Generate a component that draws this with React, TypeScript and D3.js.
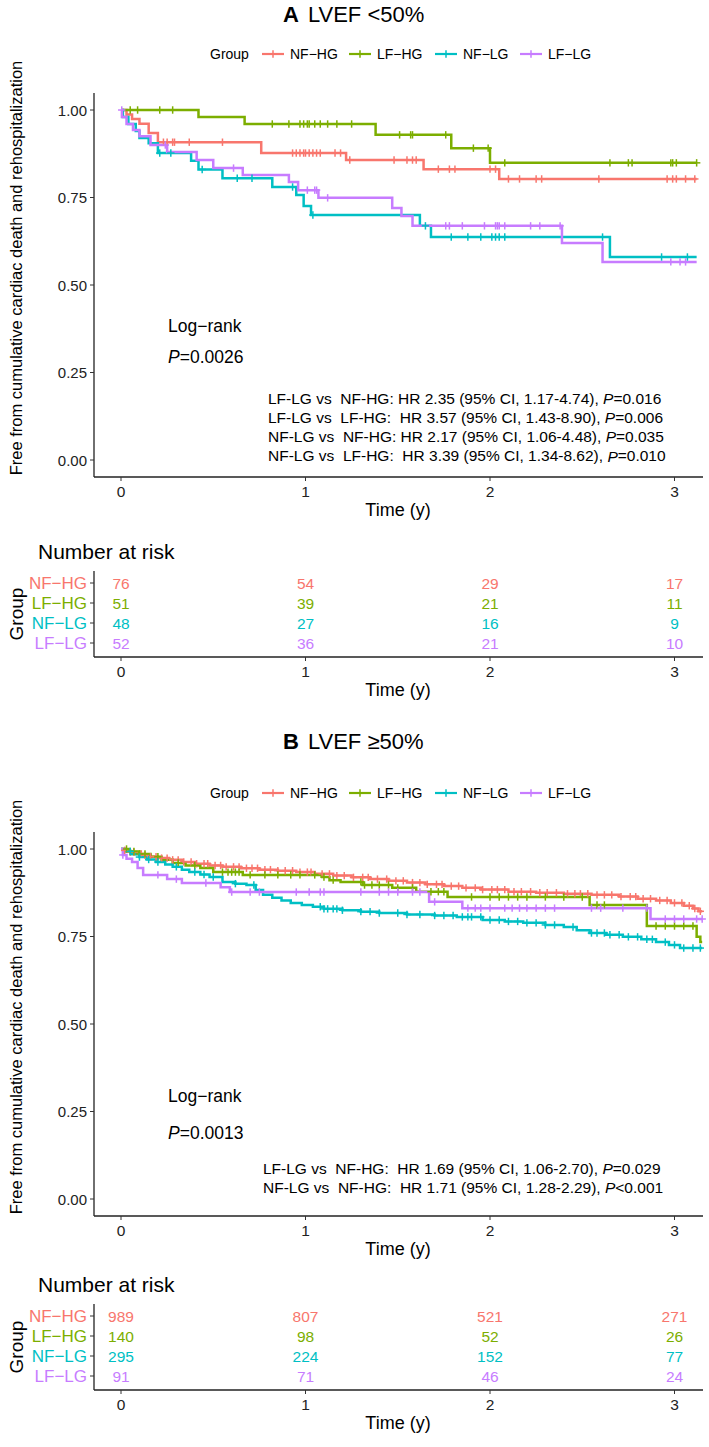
import React from 'react';
import * as d3 from 'd3';

const FONT = "'Liberation Sans', Arial, Helvetica, sans-serif";
const groups = ['NF-HG', 'LF-HG', 'NF-LG', 'LF-LG'];
const groupLabels = ['NF\u2212HG', 'LF\u2212HG', 'NF\u2212LG', 'LF\u2212LG'];
const colors = ['#F8766D', '#7CAE00', '#00BFC4', '#C77CFF'];
const xTicks = [0, 1, 2, 3];
const yTicks = [0, 0.25, 0.5, 0.75, 1];
const yTickLabels = ['0.00', '0.25', '0.50', '0.75', '1.00'];

// ---------- Panel A: LVEF <50% ----------
const aNFHG_t = [0.03, 0.06, 0.10, 0.15, 0.20, 0.76, 1.22, 1.64, 2.05];
const aNFHG_s = [0.987, 0.974, 0.961, 0.934, 0.908, 0.877, 0.857, 0.831, 0.803];
const aNFHG_c = [0.23, 0.25, 0.28, 0.29, 0.37, 0.55, 0.93, 0.95, 0.97, 0.99, 1.0, 1.02, 1.04, 1.06, 1.08, 1.16, 1.19, 1.24, 1.48, 1.55, 1.58, 1.60, 1.72, 1.78, 1.81, 2.0, 2.03, 2.10, 2.16, 2.25, 2.28, 2.59, 2.96, 2.99, 3.01, 3.06, 3.11];

const aLFHG_t = [0.42, 0.67, 1.38, 1.79, 2.0];
const aLFHG_s = [0.98, 0.96, 0.929, 0.891, 0.849];
const aLFHG_c = [0.05, 0.09, 0.21, 0.28, 0.82, 0.91, 0.97, 0.99, 1.01, 1.02, 1.05, 1.08, 1.12, 1.17, 1.25, 1.51, 1.57, 1.58, 1.76, 1.91, 1.99, 2.08, 2.65, 2.75, 2.77, 2.98, 2.99, 3.01, 3.12];

const aNFLG_t = [0.01, 0.04, 0.08, 0.10, 0.15, 0.20, 0.38, 0.42, 0.55, 0.82, 0.95, 0.99, 1.03, 1.62, 1.68, 2.65];
const aNFLG_s = [0.98, 0.96, 0.94, 0.92, 0.905, 0.877, 0.855, 0.83, 0.805, 0.78, 0.757, 0.726, 0.70, 0.669, 0.637, 0.58];
const aNFLG_c = [0.21, 0.27, 0.44, 0.63, 0.71, 0.93, 1.04, 1.65, 1.79, 1.88, 1.95, 2.01, 2.03, 2.05, 2.08, 2.61, 2.93, 3.07];

const aLFLG_t = [0.005, 0.03, 0.065, 0.10, 0.16, 0.25, 0.41, 0.50, 0.66, 0.91, 0.96, 1.07, 1.47, 1.52, 1.58, 2.39, 2.61];
const aLFLG_s = [0.98, 0.96, 0.943, 0.925, 0.90, 0.88, 0.857, 0.834, 0.814, 0.794, 0.771, 0.749, 0.72, 0.697, 0.669, 0.62, 0.566];
const aLFLG_c = [0.004, 0.24, 0.61, 1.01, 1.05, 1.06, 1.12, 1.76, 1.78, 1.85, 1.97, 2.03, 2.04, 2.05, 2.08, 2.22, 2.27, 2.38, 2.98, 3.03, 3.06];

const aRisk = [[76, 54, 29, 17], [51, 39, 21, 11], [48, 27, 16, 9], [52, 36, 21, 10]];

// ---------- Panel B: LVEF >=50% ----------
const bNFHG_t = [0.02, 0.05, 0.08, 0.12, 0.16, 0.2, 0.26, 0.33, 0.4, 0.48, 0.55, 0.65, 0.75, 0.85, 0.95, 1.05, 1.15, 1.25, 1.35, 1.45, 1.55, 1.65, 1.75, 1.85, 1.95, 2.1, 2.25, 2.4, 2.55, 2.7, 2.8, 2.9, 2.98, 3.05, 3.1, 3.13];
const bNFHG_s = [0.996, 0.991, 0.986, 0.982, 0.978, 0.974, 0.969, 0.963, 0.958, 0.953, 0.949, 0.945, 0.941, 0.938, 0.934, 0.929, 0.924, 0.919, 0.914, 0.909, 0.904, 0.899, 0.894, 0.889, 0.884, 0.878, 0.875, 0.872, 0.869, 0.864, 0.858, 0.853, 0.846, 0.838, 0.830, 0.822];
const bNFHG_c = [0.02, 0.05, 0.07, 0.11, 0.13, 0.16, 0.19, 0.22, 0.25, 0.28, 0.31, 0.34, 0.38, 0.41, 0.45, 0.47, 0.51, 0.54, 0.57, 0.61, 0.64, 0.68, 0.71, 0.74, 0.78, 0.81, 0.85, 0.89, 0.93, 0.97, 1.01, 1.03, 1.09, 1.13, 1.17, 1.21, 1.26, 1.31, 1.34, 1.39, 1.44, 1.49, 1.53, 1.58, 1.62, 1.66, 1.71, 1.74, 1.79, 1.83, 1.87, 1.92, 1.96, 2.01, 2.04, 2.08, 2.13, 2.17, 2.22, 2.27, 2.31, 2.36, 2.42, 2.46, 2.49, 2.53, 2.58, 2.62, 2.66, 2.71, 2.76, 2.79, 2.83, 2.87, 2.92, 2.96, 3.0, 3.04, 3.08, 3.11, 3.14];

const bLFHG_t = [0.04, 0.1, 0.16, 0.22, 0.28, 0.35, 0.43, 0.5, 0.66, 1.09, 1.13, 1.19, 1.31, 1.47, 1.6, 1.77, 2.54, 2.85, 3.12, 3.14];
const bLFHG_s = [0.993, 0.986, 0.978, 0.969, 0.96, 0.953, 0.946, 0.934, 0.926, 0.92, 0.911, 0.906, 0.897, 0.889, 0.878, 0.863, 0.84, 0.78, 0.749, 0.734];
const bLFHG_c = [0.03, 0.05, 0.07, 0.1, 0.13, 0.2, 0.31, 0.4, 0.55, 0.58, 0.6, 0.62, 0.64, 0.7, 0.78, 0.85, 0.92, 0.97, 1.05, 1.1, 1.15, 1.3, 1.32, 1.36, 1.4, 1.45, 1.5, 1.58, 1.68, 1.72, 1.75, 1.9, 2.0, 2.05, 2.1, 2.15, 2.2, 2.3, 2.4, 2.5, 2.58, 2.62, 2.9, 2.95, 3.0, 3.05, 3.1];

const bNFLG_t = [0.02, 0.06, 0.1, 0.14, 0.19, 0.24, 0.28, 0.33, 0.37, 0.43, 0.48, 0.55, 0.62, 0.68, 0.73, 0.77, 0.82, 0.87, 0.92, 0.98, 1.04, 1.1, 1.2, 1.3, 1.4, 1.55, 1.7, 1.82, 1.96, 2.08, 2.18, 2.3, 2.4, 2.47, 2.54, 2.63, 2.72, 2.82, 2.9, 2.97, 3.03];
const bNFLG_s = [0.993, 0.985, 0.977, 0.97, 0.963, 0.956, 0.949, 0.941, 0.934, 0.927, 0.92, 0.906, 0.901, 0.897, 0.883, 0.869, 0.861, 0.853, 0.846, 0.84, 0.835, 0.829, 0.825, 0.821, 0.817, 0.813, 0.81, 0.806, 0.797, 0.793, 0.789, 0.783, 0.777, 0.768, 0.76, 0.755, 0.749, 0.742, 0.734, 0.726, 0.717];
const bNFLG_c = [0.05, 0.1, 0.15, 0.2, 0.3, 0.4, 0.45, 0.5, 0.62, 0.72, 1.08, 1.1, 1.12, 1.15, 1.17, 1.2, 1.3, 1.35, 1.4, 1.5, 1.55, 1.62, 1.7, 1.75, 1.8, 1.85, 1.88, 1.9, 1.95, 2.0, 2.05, 2.1, 2.15, 2.2, 2.25, 2.3, 2.35, 2.45, 2.55, 2.58, 2.62, 2.65, 2.7, 2.75, 2.8, 2.85, 2.88, 2.95, 3.0, 3.05, 3.1, 3.14];

const bLFLG_t = [0.01, 0.03, 0.06, 0.09, 0.12, 0.25, 0.33, 0.54, 0.59, 1.67, 1.85, 2.87];
const bLFLG_s = [0.983, 0.972, 0.963, 0.946, 0.926, 0.914, 0.903, 0.891, 0.877, 0.849, 0.831, 0.8];
const bLFLG_c = [0.01, 0.2, 0.3, 0.46, 0.6, 0.7, 0.75, 0.95, 1.02, 1.08, 1.1, 1.3, 1.4, 1.45, 1.5, 1.58, 1.62, 1.7, 1.88, 1.92, 1.95, 2.0, 2.08, 2.12, 2.16, 2.2, 2.25, 2.3, 2.35, 2.55, 2.6, 2.72, 2.85, 2.95, 3.0, 3.05, 3.12, 3.15];

const bRisk = [[989, 807, 521, 271], [140, 98, 52, 26], [295, 224, 152, 77], [91, 71, 46, 24]];

const aHR = [
  ['LF-LG vs  NF-HG: HR 2.35 (95% CI, 1.17-4.74), ', '=0.016'],
  ['LF-LG vs  LF-HG:  HR 3.57 (95% CI, 1.43-8.90), ', '=0.006'],
  ['NF-LG vs  NF-HG: HR 2.17 (95% CI, 1.06-4.48), ', '=0.035'],
  ['NF-LG vs  LF-HG:  HR 3.39 (95% CI, 1.34-8.62), ', '=0.010'],
];
const bHR = [
  ['LF-LG vs  NF-HG:  HR 1.69 (95% CI, 1.06-2.70), ', '=0.029'],
  ['NF-LG vs  NF-HG:  HR 1.71 (95% CI, 1.28-2.29), ', '<0.001'],
];

type Series = { t: number[]; s: number[]; c: number[]; end: number };

const panelA = {
  letter: 'A', title: 'LVEF <50%', titleY: 22, legendY: 54,
  y1: 110, y0: 460, top: 93, axisY: 477, logRankY: 326, pY: 357, hrY: 398, hrX: 268, yTitleY: 268,
  series: [
    { t: aNFHG_t, s: aNFHG_s, c: aNFHG_c, end: 3.12 },
    { t: aLFHG_t, s: aLFHG_s, c: aLFHG_c, end: 3.12 },
    { t: aNFLG_t, s: aNFLG_s, c: aNFLG_c, end: 3.12 },
    { t: aLFLG_t, s: aLFLG_s, c: aLFLG_c, end: 3.12 },
  ] as Series[],
  hr: aHR, pval: '0.0026',
  riskTitleY: 551, riskRow0: 583, riskAxis: 657, risk: aRisk,
};
const panelB = {
  letter: 'B', title: 'LVEF \u226550%', titleY: 749, legendY: 793,
  y1: 849, y0: 1199, top: 832, axisY: 1216, logRankY: 1096, pY: 1133, hrY: 1168, hrX: 263, yTitleY: 1007,
  series: [
    { t: bNFHG_t, s: bNFHG_s, c: bNFHG_c, end: 3.15 },
    { t: bLFHG_t, s: bLFHG_s, c: bLFHG_c, end: 3.15 },
    { t: bNFLG_t, s: bNFLG_s, c: bNFLG_c, end: 3.15 },
    { t: bLFLG_t, s: bLFLG_s, c: bLFLG_c, end: 3.15 },
  ] as Series[],
  hr: bHR, pval: '0.0013',
  riskTitleY: 1284, riskRow0: 1316, riskAxis: 1390, risk: bRisk,
};

const X_LEFT = 94;
const X_RIGHT = 703;
const x = d3.scaleLinear().domain([0, 3]).range([121, 674.5]);

function survAt(se: Series, t: number) {
  let s = 1;
  for (let i = 0; i < se.t.length; i++) if (se.t[i] <= t) s = se.s[i];
  return s;
}

function Plus({ cx, cy, color }: { cx: number; cy: number; color: string }) {
  const h = 3.7;
  return (
    <g stroke={color} strokeWidth={1.5}>
      <line x1={cx} x2={cx} y1={cy - h} y2={cy + h} />
      <line x1={cx - h} x2={cx + h} y1={cy} y2={cy} />
    </g>
  );
}

function Panel({ p }: { p: typeof panelA }) {
  const y = d3.scaleLinear().domain([0, 1]).range([p.y0, p.y1]);
  const line = d3.line<[number, number]>().x(d => x(d[0])).y(d => y(d[1])).curve(d3.curveStepAfter);
  const legendItems = [
    { key: 262, text: 290 },
    { key: 349, text: 377 },
    { key: 435, text: 463 },
    { key: 520, text: 548 },
  ];
  const rowY = (i: number) => p.riskRow0 + i * 20;
  const riskTop = p.riskRow0 - 12;
  return (
    <g fontFamily={FONT}>
      {/* title */}
      <text x={283} y={p.titleY} fontSize={22} textAnchor="start">
        <tspan fontWeight="bold">{p.letter}</tspan>
        <tspan dx={9}>{p.title}</tspan>
      </text>
      {/* legend */}
      <text x={210} y={p.legendY} fontSize={14} dominantBaseline="central">Group</text>
      {groups.map((g, i) => (
        <g key={g}>
          <line x1={legendItems[i].key} x2={legendItems[i].key + 22} y1={p.legendY} y2={p.legendY} stroke={colors[i]} strokeWidth={2.2} />
          <Plus cx={legendItems[i].key + 11} cy={p.legendY} color={colors[i]} />
          <text x={legendItems[i].text} y={p.legendY} fontSize={14} dominantBaseline="central">{groupLabels[i]}</text>
        </g>
      ))}
      {/* axes */}
      <line x1={X_LEFT} x2={X_LEFT} y1={p.top} y2={p.axisY} stroke="#222" strokeWidth={1.3} />
      <line x1={X_LEFT} x2={X_RIGHT} y1={p.axisY} y2={p.axisY} stroke="#222" strokeWidth={1.3} />
      {yTicks.map((v, i) => (
        <g key={v}>
          <line x1={X_LEFT - 4} x2={X_LEFT} y1={y(v)} y2={y(v)} stroke="#333" />
          <text x={X_LEFT - 7} y={y(v)} fontSize={15} textAnchor="end" dominantBaseline="central" fill="#222">{yTickLabels[i]}</text>
        </g>
      ))}
      {xTicks.map(v => (
        <g key={v}>
          <line x1={x(v)} x2={x(v)} y1={p.axisY} y2={p.axisY + 4} stroke="#333" />
          <text x={x(v)} y={p.axisY + 14} fontSize={15.5} textAnchor="middle" dominantBaseline="central" fill="#222">{v}</text>
        </g>
      ))}
      <text x={398} y={p.axisY + 33} fontSize={18} textAnchor="middle" dominantBaseline="central">Time (y)</text>
      <text transform={`translate(16,${p.yTitleY}) rotate(-90)`} fontSize={16.5} textAnchor="middle" dominantBaseline="central">
        Free from cumulative cardiac death and rehospitalization
      </text>
      {/* curves */}
      {p.series.map((se, i) => {
        const pts: [number, number][] = [[0, 1], ...se.t.map((t, k) => [t, se.s[k]] as [number, number]), [se.end, se.s[se.s.length - 1]]];
        return <path key={i} d={line(pts) || ''} fill="none" stroke={colors[i]} strokeWidth={2.5} />;
      })}
      {p.series.map((se, i) => (
        <g key={'c' + i}>
          {se.c.map((t, k) => <Plus key={k} cx={x(t)} cy={y(survAt(se, t))} color={colors[i]} />)}
        </g>
      ))}
      {/* annotations */}
      <text x={168} y={p.logRankY} fontSize={17.5} dominantBaseline="central">Log{'\u2212'}rank</text>
      <text x={168} y={p.pY} fontSize={17.5} dominantBaseline="central">
        <tspan fontStyle="italic">P</tspan>={p.pval}
      </text>
      {p.hr.map((h, i) => (
        <text key={i} x={p.hrX} y={p.hrY + i * 19.2} fontSize={15.5} dominantBaseline="central" style={{ whiteSpace: 'pre' }}>
          {h[0]}<tspan fontStyle="italic">P</tspan>{h[1]}
        </text>
      ))}
      {/* risk table */}
      <text x={38} y={p.riskTitleY} fontSize={21} dominantBaseline="central">Number at risk</text>
      <line x1={X_LEFT} x2={X_LEFT} y1={riskTop} y2={p.riskAxis} stroke="#222" strokeWidth={1.3} />
      <line x1={X_LEFT} x2={X_RIGHT} y1={p.riskAxis} y2={p.riskAxis} stroke="#222" strokeWidth={1.3} />
      {groups.map((g, i) => (
        <g key={g}>
          <line x1={X_LEFT - 4} x2={X_LEFT} y1={rowY(i)} y2={rowY(i)} stroke="#333" />
          <text x={X_LEFT - 7} y={rowY(i)} fontSize={17} textAnchor="end" dominantBaseline="central" fill={colors[i]}>{groupLabels[i]}</text>
          {p.risk[i].map((n, k) => (
            <text key={k} x={x(xTicks[k])} y={rowY(i)} fontSize={15.5} textAnchor="middle" dominantBaseline="central" fill={colors[i]}>{n}</text>
          ))}
        </g>
      ))}
      <text transform={`translate(16,${(riskTop + p.riskAxis) / 2}) rotate(-90)`} fontSize={19} textAnchor="middle" dominantBaseline="central">Group</text>
      {xTicks.map(v => (
        <g key={'r' + v}>
          <line x1={x(v)} x2={x(v)} y1={p.riskAxis} y2={p.riskAxis + 4} stroke="#333" />
          <text x={x(v)} y={p.riskAxis + 14} fontSize={15.5} textAnchor="middle" dominantBaseline="central" fill="#222">{v}</text>
        </g>
      ))}
      <text x={398} y={p.riskAxis + 33} fontSize={18} textAnchor="middle" dominantBaseline="central">Time (y)</text>
    </g>
  );
}

export default function App() {
  return (
    <div style={{ position: 'absolute', left: 0, top: 0 }}>
      <svg width={709} height={1447} viewBox="0 0 709 1447" style={{ display: 'block', background: '#fff' }}>
        <rect width={709} height={1447} fill="#fff" />
        <Panel p={panelA} />
        <Panel p={panelB} />
      </svg>
    </div>
  );
}
